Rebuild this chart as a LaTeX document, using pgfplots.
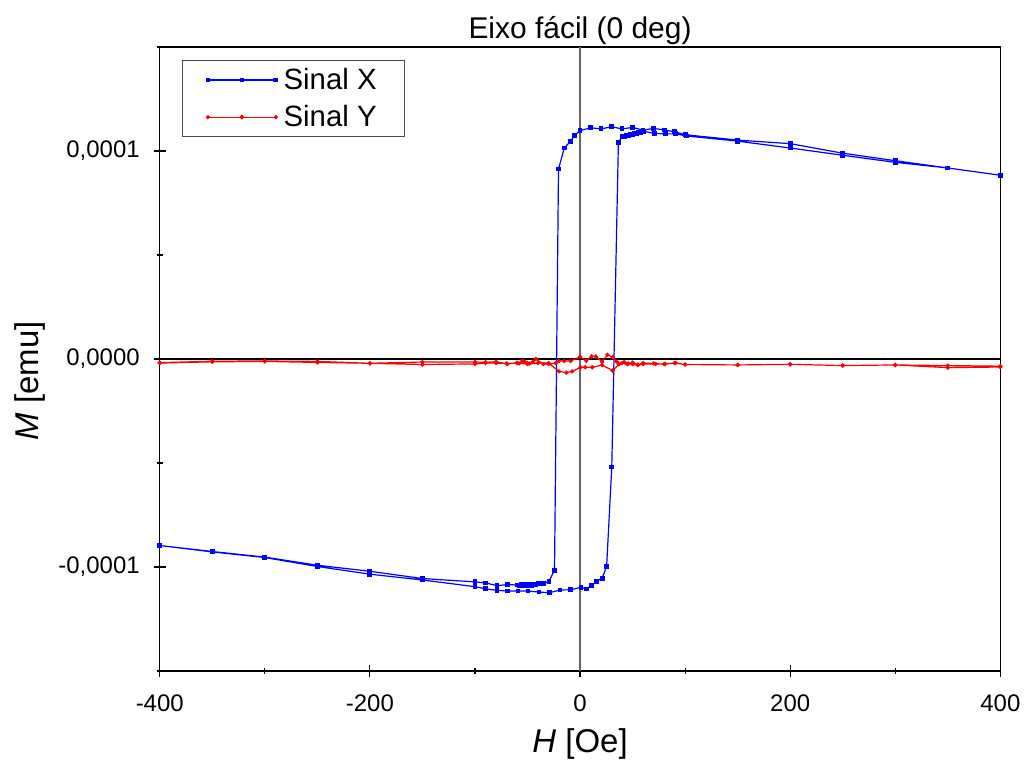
\documentclass[border=0pt]{standalone}
\usepackage{fontspec}
\setmainfont{Liberation Sans}
\usepackage{pgfplots}
\usepackage{pgfplotstable}
\pgfplotsset{compat=1.18}
% M in units of 1e-4 emu
\pgfplotstableread{
H M
400 0.883
350 0.918
300 0.953
250 0.989
200 1.035
150 1.052
100 1.078
90 1.092
80 1.101
70 1.108
60 1.100
50 1.113
40 1.106
30 1.116
20 1.106
10 1.111
0 1.098
-5 1.075
-9 1.047
-15 1.014
-20.5 0.913
-24.3 -1.016
-29.6 -1.069
-34.7 -1.081
-39.7 -1.081
-42 -1.086
-44 -1.082
-46 -1.090
-48 -1.084
-50 -1.088
-52 -1.083
-54 -1.090
-56 -1.086
-58 -1.092
-60 -1.087
-69 -1.085
-79 -1.090
-90 -1.077
-100 -1.072
-150 -1.056
-200 -1.021
-250 -0.992
-300 -0.953
-350 -0.926
-400 -0.897
-400 -0.897
-350 -0.928
-300 -0.955
-250 -0.998
-200 -1.035
-150 -1.063
-100 -1.095
-90 -1.105
-79 -1.113
-69 -1.116
-59 -1.116
-49.5 -1.116
-39 -1.121
-29 -1.124
-19 -1.111
-9 -1.110
1 -1.098
6 -1.106
11 -1.090
16 -1.069
21 -1.055
25.3 -0.998
30.2 -0.52
36.5 1.040
40 1.068
42 1.070
44 1.076
46 1.074
48 1.080
50 1.078
52 1.084
54 1.082
56 1.088
58 1.086
60.5 1.094
71 1.084
81 1.082
91 1.082
101 1.072
150 1.047
200 1.014
250 0.979
300 0.945
350 0.918
400 0.883
}\sinalx
\pgfplotstableread{
H M
400 -0.035
350 -0.032
300 -0.029
250 -0.032
200 -0.026
150 -0.029
100 -0.027
90 -0.020
80 -0.025
70 -0.022
60 -0.020
55 -0.028
50 -0.018
45 -0.025
40 -0.020
35 -0.014
31 0.008
26 0.020
21 -0.014
15 0.012
11 0.012
6 -0.010
0 0.010
-9 -0.010
-15 -0.010
-20 -0.010
-23 -0.020
-30 -0.025
-35 -0.025
-42 0.000
-45 -0.015
-48 -0.022
-50 -0.020
-53 -0.012
-55 -0.010
-58 -0.022
-60 -0.018
-69 -0.024
-80 -0.014
-90 -0.016
-100 -0.015
-150 -0.015
-200 -0.021
-250 -0.012
-300 -0.010
-350 -0.011
-400 -0.018
-400 -0.020
-350 -0.014
-300 -0.012
-250 -0.017
-200 -0.021
-150 -0.027
-100 -0.024
-90 -0.020
-80 -0.020
-70 -0.022
-60 -0.020
-50 -0.025
-40 -0.020
-30 -0.020
-20 -0.060
-13 -0.066
-7.5 -0.060
0.5 -0.040
5 -0.040
11.6 -0.040
21 -0.030
31 -0.056
37 -0.026
42 -0.015
46 -0.022
50 -0.025
55 -0.030
60 -0.025
72 -0.024
81 -0.024
91 -0.019
100 -0.027
150 -0.029
200 -0.026
250 -0.032
300 -0.029
350 -0.042
400 -0.039
}\sinaly
\begin{document}
\begin{tikzpicture}
\begin{axis}[
  scale only axis, width=421pt, height=312.5pt,
  xmin=-400, xmax=400, ymin=-1.5, ymax=1.5,
  xtick={-400,-200,0,200,400}, xticklabels={-400,-200,0,200,400},
  minor xtick={-300,-100,100,300},
  ytick={-1,0,1}, yticklabels={{-0,0001},{0,0000},{0,0001}},
  minor ytick={-1.5,-0.5,0.5,1.5},
  xtick pos=bottom, ytick pos=left,
  tick align=center,
  major tick length=6pt, minor tick length=3pt,
  every tick/.style={black, line width=0.6pt},
  axis line style={line width=0.6pt},
  tick label style={font=\fontsize{12}{14}\selectfont},
  xticklabel style={yshift=-5.5pt},
  yticklabel style={xshift=-3.5pt},
  extra x ticks={0}, extra x tick labels={},
  extra y ticks={0}, extra y tick labels={},
  extra x tick style={grid=major, major grid style={black!60, line width=0.7pt}, major tick length=0pt},
  extra y tick style={grid=major, major grid style={black, line width=0.7pt}, major tick length=0pt},
  title={Eixo fácil (0 deg)},
  title style={font=\fontsize{15}{18}\selectfont, at={(axis description cs:0.5,1)}, anchor=center, yshift=2pt},
  xlabel={\itshape H\upshape\ [Oe]},
  ylabel={\itshape M\upshape\ [emu]},
  every axis x label/.style={at={(axis description cs:0.5,0)}, anchor=center, yshift=-36.5pt, font=\fontsize{16.5}{19}\selectfont},
  every axis y label/.style={at={(axis description cs:-0.1544,0.465)}, anchor=center, rotate=90, font=\fontsize{16.5}{19}\selectfont},
  legend style={at={(0.026,0.979)}, anchor=north west, draw=black!70, line width=0.6pt,
    font=\fontsize{14.7}{17}\selectfont, inner xsep=12pt, inner ysep=1.6pt, row sep=2.5pt, column sep=1pt},
  legend cell align=left,
  legend image code/.code={\draw[#1] plot coordinates {(0pt,0pt) (17pt,0pt) (34pt,0pt)};
    \draw[#1, mark repeat=2, mark phase=2] plot coordinates {(0pt,0pt) (17pt,0pt) (34pt,0pt)};},
]
\addplot[blue, line width=0.6pt, mark=square*, mark size=0.9pt, mark options={solid}] table[x=H,y=M] {\sinalx};
\addlegendentry{Sinal X}
\addplot[red, line width=0.6pt, mark=*, mark size=0.75pt, mark options={solid}] table[x=H,y=M] {\sinaly};
\addlegendentry{Sinal Y}
\end{axis}
\path ([shift={(-80pt,-46.5pt)}]current axis.south west) rectangle ([shift={(12.5pt,23.5pt)}]current axis.north east);
\end{tikzpicture}
\end{document}
